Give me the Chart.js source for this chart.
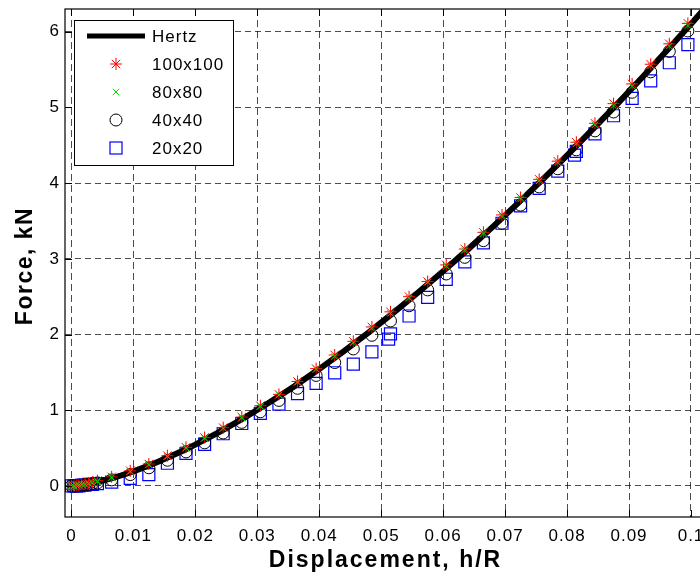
<!DOCTYPE html>
<html>
<head>
<meta charset="utf-8">
<script src="https://cdn.jsdelivr.net/npm/chart.js@4.4.1/dist/chart.umd.min.js"></script>
<style>
  html, body { margin: 0; padding: 0; background: #fff; overflow: hidden; width: 700px; height: 576px; }
  #wrap { width: 704px; height: 576px; }
</style>
</head>
<body>
<div id="wrap"><canvas id="forceChart" width="704" height="576"></canvas></div>
<script>
// tick positions and labels
const xTicks = [0, 0.01, 0.02, 0.03, 0.04, 0.05, 0.06, 0.07, 0.08, 0.09, 0.1];
const xTickLabels = ['0', '0.01', '0.02', '0.03', '0.04', '0.05', '0.06', '0.07', '0.08', '0.09', '0.1'];
const yTicks = [0, 1, 2, 3, 4, 5, 6];
const yTickLabels = ['0', '1', '2', '3', '4', '5', '6'];

// Hertz analytical curve
const hertzX = [0, 0.002, 0.004, 0.006, 0.008, 0.010, 0.012, 0.014, 0.016, 0.018, 0.020, 0.024, 0.028, 0.032, 0.036,
  0.040, 0.044, 0.048, 0.052, 0.056, 0.060, 0.064, 0.068, 0.072, 0.076, 0.080, 0.084, 0.088, 0.092, 0.096, 0.100, 0.104];
const hertzF = [0, 0.017, 0.049, 0.090, 0.138, 0.193, 0.254, 0.320, 0.391, 0.466, 0.546, 0.718, 0.904, 1.105, 1.318,
  1.544, 1.781, 2.030, 2.289, 2.558, 2.837, 3.125, 3.422, 3.729, 4.044, 4.367, 4.699, 5.038, 5.386, 5.741, 6.103, 6.473];

// displacement steps used by the FE meshes
const meshX = [0, 0.0004, 0.0008, 0.0012, 0.0017, 0.0022, 0.0028, 0.0034, 0.0042, 0.0065, 0.0095, 0.0125, 0.0155,
  0.0185, 0.0215, 0.0245, 0.0275, 0.0305, 0.0335, 0.0365, 0.0395, 0.0425, 0.0455, 0.0485, 0.0515, 0.0545, 0.0575,
  0.0605, 0.0635, 0.0665, 0.0695, 0.0725, 0.0755, 0.0785, 0.0815, 0.0845, 0.0875, 0.0905, 0.0935, 0.0965, 0.0995];

const mesh100 = [0.00, 0.00, 0.01, 0.01, 0.02, 0.03, 0.04, 0.05, 0.07, 0.12, 0.20, 0.29, 0.40, 0.51, 0.64, 0.77, 0.91,
  1.06, 1.21, 1.38, 1.55, 1.73, 1.91, 2.10, 2.30, 2.50, 2.70, 2.92, 3.13, 3.35, 3.58, 3.81, 4.05, 4.29, 4.54, 4.79,
  5.05, 5.31, 5.57, 5.84, 6.11];
const mesh80 = [0.00, 0.00, 0.01, 0.01, 0.02, 0.02, 0.03, 0.04, 0.06, 0.11, 0.19, 0.28, 0.39, 0.50, 0.63, 0.76, 0.90,
  1.05, 1.20, 1.37, 1.54, 1.71, 1.89, 2.08, 2.28, 2.48, 2.69, 2.90, 3.11, 3.33, 3.56, 3.79, 4.03, 4.27, 4.52, 4.77,
  5.02, 5.28, 5.55, 5.81, 6.08];
const mesh40 = [0.00, 0.00, 0.00, 0.01, 0.01, 0.02, 0.02, 0.03, 0.04, 0.08, 0.15, 0.24, 0.34, 0.45, 0.57, 0.70, 0.84,
  0.98, 1.13, 1.29, 1.46, 1.63, 1.81, 1.99, 2.18, 2.38, 2.59, 2.80, 3.02, 3.24, 3.47, 3.71, 3.95, 4.19, 4.44, 4.69,
  4.94, 5.20, 5.47, 5.74, 6.01];

const mesh20X = [0, 0.0004, 0.0008, 0.0012, 0.0017, 0.0022, 0.0028, 0.0034, 0.0042, 0.0065, 0.0095, 0.0125, 0.0155,
  0.0185, 0.0215, 0.0245, 0.0275, 0.0305, 0.0335, 0.0365, 0.0395, 0.0425, 0.0455, 0.0485, 0.0512, 0.0515, 0.0545,
  0.0575, 0.0605, 0.0635, 0.0665, 0.0695, 0.0725, 0.0755, 0.0785, 0.0812, 0.0815, 0.0845, 0.0875, 0.0905, 0.0935,
  0.0965, 0.0995];
const mesh20 = [0.00, 0.00, 0.00, 0.00, 0.01, 0.01, 0.02, 0.02, 0.03, 0.05, 0.10, 0.15, 0.30, 0.43, 0.55, 0.69, 0.825,
  0.96, 1.08, 1.22, 1.355, 1.495, 1.61, 1.77, 1.94, 2.01, 2.245, 2.49, 2.73, 2.96, 3.21, 3.47, 3.70, 3.93, 4.16, 4.37,
  4.42, 4.65, 4.89, 5.12, 5.35, 5.59, 5.83];

const legendNames = ['Hertz', '100x100', '80x80', '40x40', '20x20'];
const xTitle = 'Displacement, h/R';
const yTitle = 'Force, kN';

function toPoints(xs, ys) {
    return xs.map((x, i) => ({x: x, y: ys[i]}));
}

const FONT = '"Liberation Sans", Arial, Helvetica, sans-serif';

// wider letter spacing like the original export
const spacing = {
    id: 'spacing',
    beforeDraw(chart) {
        chart.ctx.letterSpacing = '1px';
    }
};

// frame, inward tick marks, axis titles and the boxed legend
const frameAndLegend = {
    id: 'frameAndLegend',
    afterDraw(chart) {
        const ctx = chart.ctx;
        const area = chart.chartArea;
        const xs = chart.scales.x;
        const ys = chart.scales.y;
        ctx.save();
        ctx.strokeStyle = '#000';
        ctx.lineWidth = 1.2;
        ctx.setLineDash([]);
        ctx.strokeRect(area.left, area.top, area.right - area.left, area.bottom - area.top);
        ctx.beginPath();
        xTicks.forEach(v => {
            const px = Math.round(xs.getPixelForValue(v)) + 0.5;
            ctx.moveTo(px, area.bottom); ctx.lineTo(px, area.bottom - 7);
            ctx.moveTo(px, area.top); ctx.lineTo(px, area.top + 7);
        });
        yTicks.forEach(v => {
            const py = Math.round(ys.getPixelForValue(v)) + 0.5;
            ctx.moveTo(area.left, py); ctx.lineTo(area.left + 7, py);
        });
        ctx.lineWidth = 1;
        ctx.stroke();

        // axis titles
        ctx.fillStyle = '#000';
        ctx.font = 'bold 23px ' + FONT;
        ctx.textAlign = 'center';
        ctx.textBaseline = 'middle';
        ctx.letterSpacing = '2px';
        ctx.fillText(xTitle, (area.left + area.right) / 2 + 1, 561);
        ctx.save();
        ctx.translate(26, 266);
        ctx.rotate(-Math.PI / 2);
        ctx.letterSpacing = '1.5px';
        ctx.fillText(yTitle, 0, 0);
        ctx.restore();

        // legend box
        ctx.letterSpacing = '1px';
        const bx = 74, by = 20, bw = 159, bh = 145;
        ctx.fillStyle = '#fff';
        ctx.fillRect(bx, by, bw, bh);
        ctx.strokeStyle = '#000';
        ctx.lineWidth = 1;
        ctx.strokeRect(bx + 0.5, by + 0.5, bw, bh);
        const rowY = [36, 64, 92, 120, 148];
        const mx = 116;
        ctx.font = '17px ' + FONT;
        ctx.textBaseline = 'middle';
        ctx.textAlign = 'left';
        legendNames.forEach((name, i) => {
            const y = rowY[i];
            ctx.save();
            if (i === 0) {
                ctx.strokeStyle = '#000';
                ctx.lineWidth = 5;
                ctx.beginPath(); ctx.moveTo(87, y); ctx.lineTo(145, y); ctx.stroke();
            } else if (i === 1) {
                ctx.strokeStyle = '#ff0000';
                ctx.lineWidth = 1;
                ctx.beginPath();
                ctx.moveTo(mx - 6, y); ctx.lineTo(mx + 6, y);
                ctx.moveTo(mx, y - 6); ctx.lineTo(mx, y + 6);
                ctx.moveTo(mx - 4.2, y - 4.2); ctx.lineTo(mx + 4.2, y + 4.2);
                ctx.moveTo(mx - 4.2, y + 4.2); ctx.lineTo(mx + 4.2, y - 4.2);
                ctx.stroke();
            } else if (i === 2) {
                ctx.strokeStyle = '#00dd00';
                ctx.lineWidth = 1;
                ctx.beginPath();
                ctx.moveTo(mx - 3.2, y - 3.2); ctx.lineTo(mx + 3.2, y + 3.2);
                ctx.moveTo(mx - 3.2, y + 3.2); ctx.lineTo(mx + 3.2, y - 3.2);
                ctx.stroke();
            } else if (i === 3) {
                ctx.strokeStyle = '#000';
                ctx.lineWidth = 1;
                ctx.beginPath(); ctx.arc(mx, y, 6, 0, Math.PI * 2); ctx.stroke();
            } else {
                ctx.strokeStyle = '#0000ff';
                ctx.lineWidth = 1.2;
                ctx.strokeRect(mx - 6, y - 6, 12, 12);
            }
            ctx.restore();
            ctx.fillStyle = '#000';
            ctx.fillText(name, 152, y + 1);
        });
        ctx.restore();
    }
};

const ctx = document.getElementById('forceChart').getContext('2d');
new Chart(ctx, {
    type: 'scatter',
    data: {
        datasets: [
            {
                label: 'Hertz',
                type: 'line',
                data: toPoints(hertzX, hertzF),
                borderColor: '#000',
                borderWidth: 6,
                pointRadius: 0,
                fill: false,
                tension: 0,
                order: 3
            },
            {
                label: '100x100',
                data: toPoints(meshX, mesh100),
                pointStyle: 'star',
                pointRadius: 6,
                borderColor: '#ff0000',
                backgroundColor: 'rgba(0,0,0,0)',
                borderWidth: 1,
                order: 2
            },
            {
                label: '80x80',
                data: toPoints(meshX, mesh80),
                pointStyle: 'crossRot',
                pointRadius: 4.5,
                borderColor: '#00dd00',
                backgroundColor: 'rgba(0,0,0,0)',
                borderWidth: 1,
                order: 1
            },
            {
                label: '40x40',
                data: toPoints(meshX, mesh40),
                pointStyle: 'circle',
                pointRadius: 6,
                borderColor: '#000',
                backgroundColor: 'rgba(0,0,0,0)',
                borderWidth: 1,
                order: 4
            },
            {
                label: '20x20',
                data: toPoints(mesh20X, mesh20),
                pointStyle: 'rect',
                pointRadius: 8.5,
                borderColor: '#0000ff',
                backgroundColor: 'rgba(0,0,0,0)',
                borderWidth: 1.2,
                order: 5
            }
        ]
    },
    options: {
        responsive: false,
        animation: false,
        devicePixelRatio: 1,
        layout: { autoPadding: false, padding: { top: 9, left: 0, right: 0, bottom: 0 } },
        plugins: {
            legend: { display: false },
            tooltip: { enabled: false }
        },
        scales: {
            x: {
                type: 'linear',
                min: -0.00103,
                max: 0.1021,
                afterBuildTicks: scale => { scale.ticks = xTicks.map(v => ({value: v})); },
                afterFit: scale => {
                    scale.height = 59;
                    scale.paddingLeft = 0;
                    scale.paddingRight = 0;
                },
                ticks: {
                    callback: (value, index) => xTickLabels[index],
                    color: '#000',
                    font: { family: FONT, size: 17 },
                    padding: 9,
                    maxRotation: 0,
                    autoSkip: false
                },
                grid: {
                    color: 'rgba(0,0,0,0.7)',
                    lineWidth: 1,
                    drawTicks: false
                },
                border: { display: false, dash: [7, 4] }
            },
            y: {
                type: 'linear',
                min: -0.41,
                max: 6.3,
                afterBuildTicks: scale => { scale.ticks = yTicks.map(v => ({value: v})); },
                afterFit: scale => {
                    scale.width = 65;
                    scale.paddingTop = 0;
                    scale.paddingBottom = 0;
                },
                ticks: {
                    callback: (value, index) => yTickLabels[index],
                    color: '#000',
                    font: { family: FONT, size: 17 },
                    padding: 5
                },
                grid: {
                    color: 'rgba(0,0,0,0.7)',
                    lineWidth: 1,
                    drawTicks: false
                },
                border: { display: false, dash: [6, 4] }
            }
        }
    },
    plugins: [spacing, frameAndLegend]
});
</script>
</body>
</html>
